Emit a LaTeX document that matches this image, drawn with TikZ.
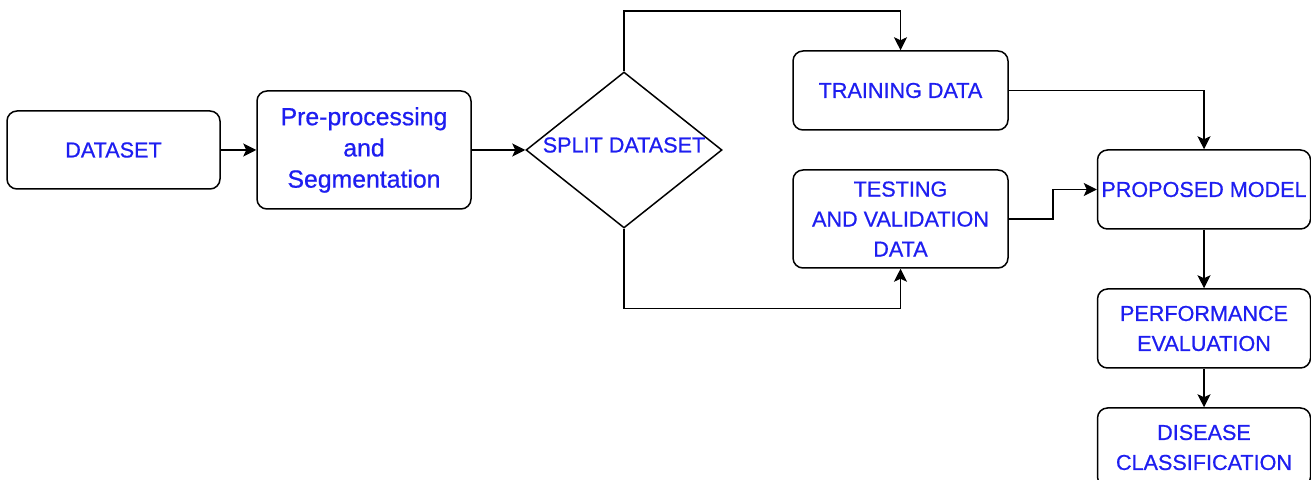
\documentclass[tikz,border=0pt]{standalone}
\usepackage{fontspec}
\setmainfont{Liberation Sans}[FakeBold=0.7]
\usetikzlibrary{shapes.geometric,arrows.meta}
\definecolor{txtblue}{RGB}{30,30,240}
\tikzset{
  box/.style={draw, rounded corners=5pt, line width=0.75pt, inner sep=1pt, align=center,
    text=txtblue, font=\fontsize{10.8}{15}\selectfont},
  dmd/.style={draw, diamond, line width=0.75pt, inner sep=0pt},
  lbl/.style={text=txtblue, font=\fontsize{10.8}{15}\selectfont},
  arr/.style={line width=0.75pt, -{Stealth[length=6.5pt,width=6.5pt,inset=1.5pt]}},
}
\begin{document}
\begin{tikzpicture}[x=0.5pt,y=-0.5pt]
\useasboundingbox (0,0) rectangle (1311,480);
\node[box, minimum width=106.5pt, minimum height=39pt] (ds) at (113.5,150) {DATASET};
\node[box, minimum width=107pt, minimum height=59pt, font=\fontsize{12.4}{15.6}\selectfont] (pre) at (364,150) {Pre-processing\\and\\Segmentation};
\node[dmd, minimum width=98pt, minimum height=78pt,
  label={[lbl, yshift=2.5pt]center:SPLIT DATASET}] (split) at (624,150) {};
\node[box, minimum width=107.5pt, minimum height=39.5pt] (train) at (900.5,90.5) {TRAINING DATA};
\node[box, minimum width=107.5pt, minimum height=49pt] (test) at (900.5,219) {TESTING\\AND VALIDATION\\DATA};
\node[box, minimum width=106.5pt, minimum height=39.5pt] (prop) at (1204,189.5) {PROPOSED MODEL};
\node[box, minimum width=106.5pt, minimum height=39.5pt] (perf) at (1204,328.5) {PERFORMANCE\\EVALUATION};
\node[box, minimum width=106.5pt, minimum height=39.5pt] (dis) at (1204,447.5) {DISEASE\\CLASSIFICATION};
\draw[arr] (ds.east) -- (pre.west);
\draw[arr] (pre.east) -- (split.west);
\draw[arr] (split.north) -- ++(0,-60) -| (train.north);
\draw[arr] (split.south) -- ++(0,80) -| (test.south);
\draw[arr] (train.east) -| (prop.north);
\draw[arr] (test.east) -- ++(44,0) |- (prop.west);
\draw[arr] (prop.south) -- (perf.north);
\draw[arr] (perf.south) -- (dis.north);
\end{tikzpicture}
\end{document}
